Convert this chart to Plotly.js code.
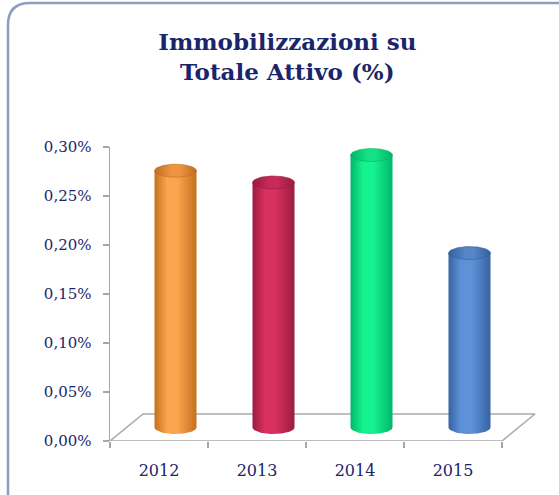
<!DOCTYPE html>
<html>
<head>
<meta charset="utf-8">
<script src="https://cdn.plot.ly/plotly-3.0.1.min.js"></script>
<style>
  html, body { margin: 0; padding: 0; background: #ffffff; }
  #chart { width: 559px; height: 495px; }
</style>
</head>
<body>
<div id="chart"></div>
<script>
// ---- data ----
const categories = ['2012', '2013', '2014', '2015'];
const values = [0.00262, 0.00250, 0.00278, 0.00178];      // fraction of total assets
const yTickVals = [0, 0.0005, 0.0010, 0.0015, 0.0020, 0.0025, 0.0030];
const bodyDark = ['#c4701f', '#9c1b42', '#00b868', '#3664a4'];
const bodyLight = ['#fca44e', '#d8305f', '#16f290', '#5e92d8'];
const topDark = ['#c06c20', '#981a40', '#00b465', '#34609e'];
const topLight = ['#ee9442', '#c82a56', '#14e286', '#5586c8'];

// ---- geometry (pixel based, converted to axis units) ----
const W = 559, H = 495;
const M = { l: 110, r: 19, t: 147, b: 54 };
const plotW = W - M.l - M.r, plotH = H - M.t - M.b;
const yMax = 0.0030;
const pxPerCat = 98;
const xMax = plotW / pxPerCat;
const pxPerY = plotH / yMax;
const depthX = 33 / pxPerCat, depthY = 27 / pxPerY;
const halfW = 21 / pxPerCat, ry = 6.5 / pxPerY;
const nCat = categories.length;

const traces = [];

// floor outline (on the base x axis, drawn beneath the cylinders)
traces.push({
  x: [0, nCat, nCat + depthX, depthX, 0],
  y: [0, 0, depthY, depthY, 0],
  xaxis: 'x', yaxis: 'y',
  mode: 'lines', type: 'scatter',
  line: { color: '#ababab', width: 1.6 },
  fill: 'toself', fillcolor: 'rgba(255,255,255,0)',
  hoverinfo: 'skip', showlegend: false
});

const N = 48;
categories.forEach((c, i) => {
  const cx = i + 0.5 + depthX / 2;
  const base = depthY / 2;
  const top = base + values[i];
  // body
  const bx = [cx - halfW, cx + halfW, cx + halfW];
  const by = [top, top, base];
  for (let k = 0; k <= N; k++) {
    const t = -Math.PI * k / N;
    bx.push(cx + halfW * Math.cos(t));
    by.push(base + ry * Math.sin(t));
  }
  bx.push(cx - halfW);
  by.push(top);
  traces.push({
    x: bx, y: by, type: 'scatter', mode: 'lines',
    xaxis: 'x2', yaxis: 'y',
    line: { width: 0, color: bodyDark[i] },
    fill: 'toself',
    fillgradient: {
      type: 'horizontal',
      colorscale: [[0, bodyDark[i]], [0.3, bodyLight[i]], [0.55, bodyLight[i]], [1, bodyDark[i]]]
    },
    hoverinfo: 'skip', showlegend: false, name: c
  });
  // top ellipse
  const tx = [], ty = [];
  for (let k = 0; k <= N * 2; k++) {
    const t = Math.PI * k / N;
    tx.push(cx + halfW * Math.cos(t));
    ty.push(top + ry * Math.sin(t));
  }
  traces.push({
    x: tx, y: ty, type: 'scatter', mode: 'lines',
    xaxis: 'x2', yaxis: 'y',
    line: { width: 0.6, color: topDark[i] },
    fill: 'toself',
    fillgradient: {
      type: 'horizontal',
      colorscale: [[0, topDark[i]], [0.4, topLight[i]], [0.6, topLight[i]], [1, topDark[i]]]
    },
    hoverinfo: 'skip', showlegend: false
  });
});

// border (rounded rect partly off-canvas)
function px2x(p) { return (p - M.l) / plotW; }
function py2y(p) { return 1 - (p - M.t) / plotH; }
const r = 22;
const borderPath =
  'M ' + px2x(8) + ',' + py2y(H + 20) +
  ' L ' + px2x(8) + ',' + py2y(3 + r) +
  ' Q ' + px2x(8) + ',' + py2y(3) + ' ' + px2x(8 + r) + ',' + py2y(3) +
  ' L ' + px2x(W + 20) + ',' + py2y(3);

const navy = '#1a256b';
const layout = {
  width: W, height: H,
  margin: M,
  paper_bgcolor: '#ffffff', plot_bgcolor: 'rgba(0,0,0,0)',
  separators: ',.',
  showlegend: false,
  title: {
    text: '<b>Immobilizzazioni su<br>Totale Attivo (%)</b>',
    x: 0.514, xref: 'container', xanchor: 'center',
    y: 1 - 50 / H, yref: 'container', yanchor: 'middle',
    font: { family: 'DejaVu Serif, serif', size: 23, color: navy }
  },
  xaxis: {
    range: [0, xMax], fixedrange: true,
    showgrid: false, zeroline: false, showline: false,
    tickmode: 'array',
    tickvals: Array.from({ length: nCat + 1 }, (_, k) => k),
    ticktext: Array.from({ length: nCat + 1 }, () => ''),
    ticks: 'outside', ticklen: 6, tickcolor: '#a6a6a6', tickwidth: 1.5
  },
  xaxis2: {
    overlaying: 'x', side: 'bottom', anchor: 'y',
    range: [0, xMax], fixedrange: true,
    showgrid: false, zeroline: false, showline: false,
    tickmode: 'array',
    tickvals: categories.map((c, k) => k + 0.5),
    ticktext: categories,
    ticks: '', ticklabelstandoff: 18,
    tickfont: { family: 'DejaVu Serif, serif', size: 16, color: navy }
  },
  yaxis: {
    range: [0, yMax], fixedrange: true,
    showgrid: false, zeroline: false,
    showline: true, linecolor: '#a6a6a6', linewidth: 1.5,
    tickmode: 'array', tickvals: yTickVals,
    tickformat: '.2%',
    ticks: 'outside', ticklen: 6, tickcolor: '#a6a6a6', tickwidth: 1.5,
    ticklabelstandoff: 8,
    tickfont: { family: 'DejaVu Serif, serif', size: 15, color: navy }
  },
  shapes: [{
    type: 'path', xref: 'paper', yref: 'paper', layer: 'below',
    path: borderPath,
    line: { color: '#8c9dc2', width: 2.5 }
  }]
};

Plotly.newPlot('chart', traces, layout, { staticPlot: true, displayModeBar: false });
</script>
</body>
</html>
